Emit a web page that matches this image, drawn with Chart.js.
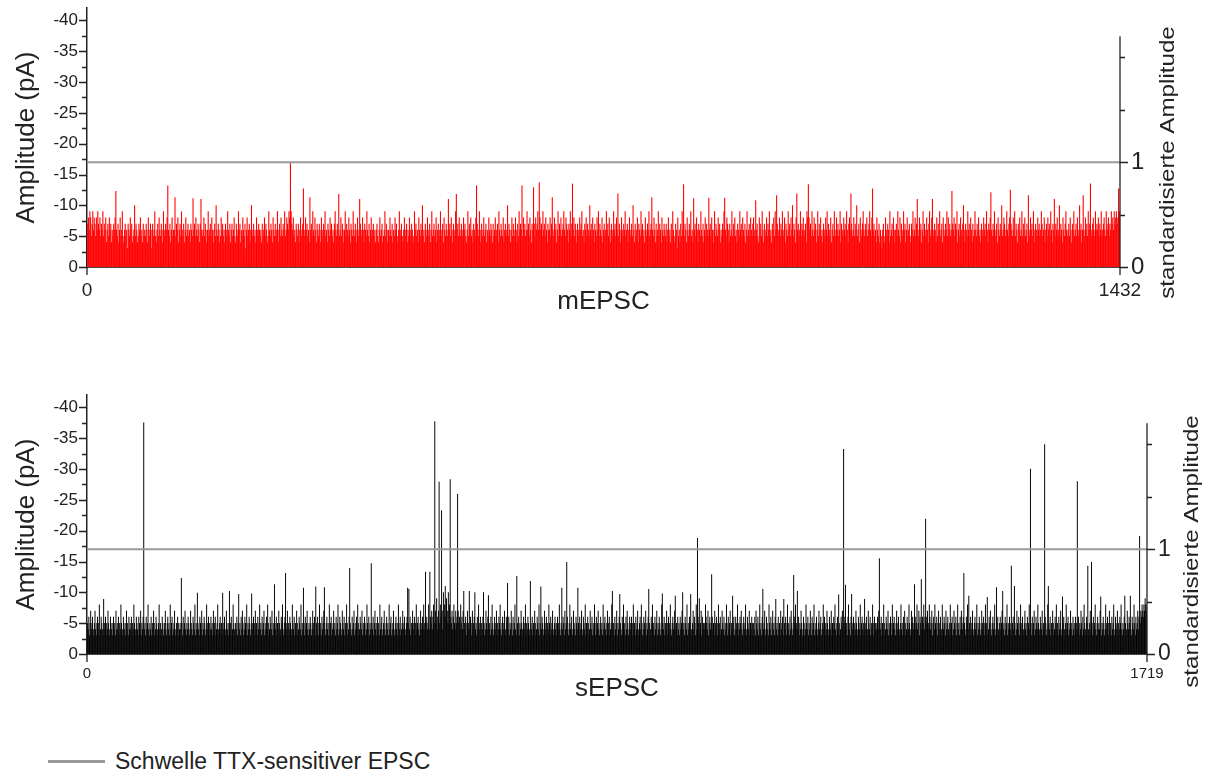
<!DOCTYPE html>
<html>
<head>
<meta charset="utf-8">
<script src="https://cdn.jsdelivr.net/npm/chart.js@4/dist/chart.umd.min.js"></script>
<style>
  html, body { margin: 0; padding: 0; background: #fff; }
  #page { position: relative; width: 1208px; height: 776px; overflow: hidden;
          font-family: "Liberation Sans", Arial, sans-serif; }
  .panel { position: absolute; left: 0; width: 1208px; height: 320px; }
  #legend { position: absolute; left: 48px; top: 744px; height: 34px;
            display: flex; align-items: center; color: #222; font-size: 23px; }
  #legend .swatch { width: 57px; height: 3px; background: #9a9a9a; margin-right: 10px; }
</style>
</head>
<body>
<div id="page">
  <div class="panel" style="top:0"><canvas id="mChart" width="1208" height="320"></canvas></div>
  <div class="panel" style="top:387px"><canvas id="sChart" width="1208" height="320"></canvas></div>
  <div id="legend"><span class="swatch"></span><span>Schwelle TTX-sensitiver EPSC</span></div>
</div>
<script>
// Amplitudes (pA) of single miniature EPSCs, in order of occurrence
const mEPSC = [
-7,-8,-6,-9,-8,-5,-7,-9,-6,-8,  -7,-5,-8,-6,-9,-7,-6,-8,-5,-7,  -6,-9,-5,-7,-6,-8,-4,-6,-7,-5,  -8,-6,-7,-4,-6,-5,-7,-6,-8,-12.3,
-6,-5,-7,-4,-6,-8,-5,-6,-9,-5,  -4,-6,-7,-5,-6,-3,-7,-6,-5,-8,  -6,-7,-4,-5,-6,-10,-5,-7,-6,-4,  -5,-7,-6,-8,-5,-6,-4,-7,-5,-6,
-5,-7,-6,-4,-8,-6,-5,-7,-3,-6,  -7,-5,-6,-9,-5,-4,-6,-7,-5,-8,  -6,-5,-7,-6,-4,-9,-6,-5,-7,-6,  -8,-13.2,-6,-5,-7,-4,-6,-8,-5,-6,
-6,-11.3,-5,-7,-6,-8,-4,-6,-7,-5,  -9,-6,-5,-7,-4,-6,-8,-5,-6,-7,  -5,-6,-4,-7,-6,-5,-11.1,-6,-7,-5,  -8,-6,-5,-7,-6,-4,-7,-11,-6,-5,
-6,-8,-5,-7,-6,-4,-6,-9,-5,-6,  -7,-5,-8,-6,-4,-6,-7,-5,-10,-6,  -5,-7,-6,-4,-5,-8,-6,-7,-5,-6,  -4,-7,-6,-5,-9,-6,-5,-7,-4,-6,
-7,-5,-6,-8,-5,-4,-7,-6,-5,-9,  -6,-7,-4,-6,-5,-8,-6,-5,-7,-3,  -6,-8,-5,-6,-7,-4,-6,-10,-5,-6,  -7,-5,-6,-4,-8,-6,-5,-7,-6,-5,
-6,-4,-7,-5,-6,-8,-5,-7,-6,-4,  -5,-9,-6,-5,-7,-6,-4,-8,-6,-5,  -7,-5,-6,-9,-4,-6,-7,-5,-8,-6,  -5,-7,-6,-9,-5,-6,-8,-7,-6,-9,
-8,-16.9,-9,-7,-6,-8,-5,-6,-4,-7,  -6,-5,-7,-4,-6,-8,-5,-6,-7,-12.7,  -6,-5,-8,-6,-7,-5,-6,-4,-11.3,-6,  -7,-5,-9,-6,-5,-8,-6,-4,-7,-6,
-5,-7,-6,-4,-8,-6,-5,-7,-6,-9,  -5,-6,-4,-7,-6,-5,-8,-6,-7,-5,  -6,-4,-7,-9,-6,-5,-7,-6,-11.8,-5,  -6,-8,-5,-7,-6,-4,-6,-9,-5,-7,
-6,-5,-8,-6,-4,-7,-6,-5,-9,-6,  -5,-7,-6,-4,-8,-5,-6,-11,-7,-6,  -5,-8,-6,-4,-7,-6,-5,-9,-6,-5,  -7,-4,-6,-8,-5,-6,-7,-5,-6,-4,
-6,-7,-5,-4,-6,-8,-5,-6,-7,-4,  -5,-6,-9,-5,-7,-6,-4,-6,-5,-8,  -6,-5,-7,-4,-6,-5,-8,-6,-7,-5,  -4,-6,-9,-5,-6,-7,-5,-4,-6,-8,
-5,-6,-7,-4,-6,-5,-8,-6,-5,-7,  -6,-4,-5,-9,-6,-7,-5,-6,-4,-8,  -6,-5,-7,-6,-10,-5,-6,-4,-7,-6,  -5,-8,-6,-5,-7,-4,-6,-9,-5,-6,
-7,-5,-6,-8,-4,-6,-7,-5,-6,-9,  -5,-6,-7,-4,-8,-6,-5,-7,-6,-5,  -11,-6,-7,-5,-8,-6,-4,-7,-6,-5,  -9,-11.8,-6,-7,-5,-8,-6,-5,-7,-6,
-5,-8,-6,-7,-5,-4,-6,-9,-5,-7,  -6,-8,-5,-6,-4,-7,-6,-5,-8,-13.2,  -7,-6,-5,-9,-6,-4,-7,-5,-6,-8,  -5,-6,-7,-4,-6,-5,-8,-6,-5,-7,
-6,-4,-7,-5,-6,-8,-5,-6,-7,-4,  -9,-6,-5,-7,-6,-5,-8,-4,-6,-7,  -5,-6,-10,-5,-7,-6,-4,-6,-8,-5,  -7,-6,-5,-8,-6,-4,-7,-5,-9,-6,
-7,-6,-13.2,-5,-8,-6,-7,-5,-6,-9,  -6,-7,-5,-8,-6,-4,-7,-6,-12.9,-7,  -5,-8,-6,-7,-9,-6,-13.7,-8,-6,-7,  -5,-9,-6,-7,-5,-8,-6,-4,-7,-6,
-6,-8,-5,-7,-11.3,-6,-5,-8,-6,-7,  -4,-6,-9,-5,-7,-6,-8,-5,-6,-7,  -9,-6,-5,-8,-7,-6,-4,-7,-6,-9,  -5,-7,-13.5,-6,-8,-5,-7,-6,-4,-7,
-6,-5,-8,-6,-7,-9,-5,-6,-4,-7,  -6,-8,-5,-7,-6,-5,-10,-6,-7,-5,  -8,-6,-4,-7,-6,-5,-8,-6,-9,-5,  -7,-6,-5,-8,-4,-6,-7,-5,-6,-9,
-6,-7,-5,-8,-6,-4,-7,-6,-5,-9,  -6,-7,-5,-8,-6,-11.9,-5,-7,-6,-4,  -8,-6,-5,-7,-6,-9,-5,-6,-7,-4,  -6,-8,-5,-6,-7,-5,-10,-6,-4,-7,
-5,-6,-8,-4,-7,-6,-5,-9,-6,-7,  -5,-6,-4,-8,-6,-5,-7,-6,-9,-5,  -6,-7,-11.3,-6,-5,-8,-6,-4,-7,-5,  -6,-9,-5,-7,-6,-4,-8,-6,-5,-7,
-6,-5,-7,-4,-6,-8,-5,-6,-4,-7,  -5,-9,-6,-4,-5,-7,-6,-3,-8,-5,  -6,-4,-7,-5,-9,-6,-13.4,-5,-7,-6,  -4,-8,-6,-5,-7,-6,-9,-5,-6,-4,
-11.1,-6,-7,-5,-8,-6,-4,-7,-6,-5,  -9,-6,-5,-7,-4,-6,-8,-5,-7,-6,  -5,-11.2,-6,-7,-5,-8,-6,-4,-6,-9,  -5,-7,-6,-5,-8,-6,-7,-4,-6,-5,
-7,-6,-9,-11.2,-6,-5,-8,-7,-6,-4,  -7,-5,-6,-9,-5,-7,-6,-8,-5,-6,  -4,-7,-6,-5,-9,-6,-7,-5,-8,-6,  -5,-7,-4,-6,-9,-5,-6,-7,-5,-8,
-6,-5,-7,-8,-6,-5,-10.8,-6,-7,-5,  -4,-8,-6,-7,-5,-9,-6,-4,-7,-5,  -6,-8,-5,-7,-6,-9,-5,-6,-4,-7,  -6,-8,-5,-9,-6,-11.6,-7,-5,-6,-8,
-5,-7,-6,-9,-5,-6,-8,-4,-7,-6,  -5,-9,-6,-7,-5,-8,-6,-10,-5,-7,  -6,-4,-8,-11.9,-6,-7,-5,-6,-9,-5,  -7,-6,-8,-5,-6,-7,-4,-9,-8,-13.4,
-8,-6,-7,-5,-9,-6,-5,-8,-6,-7,  -4,-6,-9,-5,-7,-6,-8,-5,-6,-4,  -7,-6,-5,-8,-6,-9,-5,-7,-6,-5,  -8,-4,-6,-7,-5,-9,-6,-5,-8,-6,
-7,-5,-6,-9,-4,-7,-6,-5,-8,-6,  -7,-5,-9,-6,-4,-7,-8,-6,-11.9,-7,  -5,-6,-8,-5,-7,-6,-10,-5,-6,-7,  -4,-8,-6,-5,-7,-9,-6,-5,-7,-6,
-8,-5,-6,-7,-9,-6,-5,-8,-12.7,-6,  -7,-5,-6,-4,-8,-6,-5,-7,-4,-6,  -5,-3,-6,-7,-5,-4,-8,-6,-5,-7,  -6,-4,-9,-5,-6,-7,-5,-8,-6,-4,
-6,-7,-5,-9,-6,-5,-8,-4,-7,-6,  -5,-9,-6,-7,-4,-6,-8,-5,-6,-7,  -5,-4,-7,-6,-9,-5,-6,-8,-5,-7,  -11,-6,-5,-8,-6,-7,-4,-6,-9,-5,
-7,-6,-5,-8,-6,-4,-7,-9,-5,-6,  -8,-11,-6,-5,-7,-6,-4,-8,-5,-7,  -6,-9,-5,-6,-7,-4,-8,-6,-5,-7,  -6,-9,-5,-8,-6,-7,-5,-6,-12.3,-7,
-6,-8,-5,-7,-6,-9,-4,-6,-7,-5,  -8,-6,-5,-7,-10,-6,-4,-7,-6,-5,  -9,-6,-7,-5,-8,-6,-4,-7,-5,-6,  -9,-6,-5,-7,-6,-8,-5,-6,-4,-7,
-6,-5,-8,-6,-7,-5,-9,-6,-4,-7,  -6,-8,-12.1,-6,-5,-7,-6,-9,-5,-6,  -7,-4,-8,-6,-5,-7,-6,-10,-5,-6,  -8,-7,-5,-6,-9,-6,-5,-7,-8,-12.5,
-7,-6,-5,-8,-6,-9,-5,-7,-6,-4,  -7,-6,-8,-5,-6,-9,-5,-7,-6,-8,  -5,-6,-7,-4,-11.6,-6,-5,-8,-6,-7,  -5,-9,-6,-4,-7,-6,-5,-8,-6,-7,
-5,-6,-9,-7,-5,-6,-8,-4,-6,-7,  -5,-8,-6,-7,-5,-9,-6,-4,-7,-6,  -11,-5,-7,-6,-8,-5,-6,-10,-5,-7,  -6,-4,-8,-6,-5,-7,-9,-6,-5,-6,
-7,-5,-8,-6,-4,-7,-6,-9,-5,-6,  -7,-5,-8,-6,-5,-10,-6,-7,-4,-6,  -11.6,-6,-5,-8,-6,-7,-5,-9,-6,-7,  -13.5,-6,-5,-7,-8,-6,-5,-9,-6,-7,
-6,-8,-5,-7,-6,-9,-5,-6,-7,-8,  -6,-5,-9,-7,-6,-8,-5,-7,-6,-9,  -7,-8,-6,-9,-7,-8,-9,-7,-8,-12.7,  -9,-8
];

// Amplitudes (pA) of single spontaneous EPSCs, in order of occurrence
const sEPSC = [
-5,-4,-6,-3,-5,-7,-4,-5,-6,-3,  -4,-5,-7,-4,-3,-5,-6,-4,-5,-8,  -3,-4,-6,-5,-4,-3,-8.9,-5,-4,-6,  -3,-5,-4,-7,-5,-3,-4,-6,-5,-4,
-3,-5,-6,-4,-5,-3,-7,-4,-5,-4,  -6,-3,-5,-4,-8,-5,-3,-4,-6,-5,  -4,-3,-5,-7,-4,-5,-3,-6,-4,-5,  -4,-6,-3,-5,-4,-8,-5,-3,-4,-6,
-5,-4,-3,-6,-5,-4,-7,-3,-5,-4,  -6,-37.5,-4,-5,-3,-6,-4,-5,-8,-4,  -3,-5,-4,-6,-3,-5,-4,-7,-5,-3,  -4,-6,-5,-4,-3,-5,-8,-4,-5,-3,
-4,-6,-5,-3,-4,-5,-7,-4,-3,-5,  -6,-4,-5,-3,-8,-4,-5,-6,-3,-4,  -5,-7,-4,-3,-5,-4,-6,-5,-3,-4,  -5,-4,-12.3,-5,-3,-6,-4,-5,-7,-4,
-3,-5,-4,-6,-5,-3,-4,-7,-5,-4,  -3,-6,-5,-4,-8,-3,-5,-4,-9.9,-5,  -4,-3,-6,-5,-4,-7,-3,-5,-4,-6,  -5,-3,-4,-8,-5,-4,-6,-3,-5,-4,
-6,-4,-5,-3,-7,-4,-5,-6,-3,-4,  -5,-8,-4,-3,-5,-6,-4,-5,-3,-9.9,  -4,-5,-6,-3,-4,-7,-5,-4,-3,-5,  -10.2,-4,-5,-6,-3,-4,-8,-5,-4,-3,
-5,-4,-6,-3,-5,-9.7,-4,-5,-3,-6,  -4,-7,-5,-3,-4,-6,-5,-4,-8,-3,  -5,-4,-6,-5,-3,-4,-9.8,-5,-4,-6,  -3,-5,-7,-4,-5,-3,-6,-4,-5,-8,
-4,-5,-3,-6,-4,-5,-7,-3,-4,-5,  -6,-4,-8,-5,-3,-4,-6,-5,-4,-7,  -3,-5,-4,-11.3,-5,-4,-6,-3,-5,-4,  -7,-5,-3,-4,-6,-5,-8,-4,-3,-5,
-6,-13.1,-5,-4,-7,-3,-5,-4,-6,-5,  -3,-4,-8,-5,-4,-6,-3,-5,-4,-7,  -5,-3,-4,-6,-5,-4,-8,-3,-5,-4,  -10.7,-5,-3,-6,-4,-5,-7,-4,-3,-5,
-4,-6,-5,-3,-4,-7,-5,-4,-6,-3,  -10.9,-5,-4,-6,-3,-5,-8,-4,-5,-3,  -6,-4,-5,-7,-10.8,-4,-3,-5,-6,-4,  -5,-3,-8,-4,-5,-6,-3,-4,-5,-7,
-4,-5,-3,-6,-4,-5,-8,-3,-4,-6,  -5,-4,-3,-7,-5,-4,-6,-3,-5,-4,  -8,-5,-3,-4,-6,-13.9,-5,-4,-3,-6,  -4,-5,-7,-3,-4,-5,-6,-4,-8,-5,
-3,-4,-6,-5,-4,-7,-3,-5,-4,-6,  -5,-3,-4,-8,-5,-4,-6,-3,-5,-4,  -14.7,-5,-4,-6,-3,-5,-7,-4,-5,-3,  -6,-4,-5,-3,-8,-4,-5,-6,-3,-4,
-5,-7,-4,-3,-5,-6,-4,-5,-3,-8,  -4,-5,-6,-3,-4,-5,-7,-4,-3,-5,  -6,-4,-5,-3,-8,-5,-4,-6,-3,-4,  -5,-7,-4,-5,-6,-3,-4,-5,-6,-10.7,
-5,-10.5,-4,-6,-3,-5,-4,-7,-5,-4,  -6,-3,-5,-8,-4,-5,-6,-4,-3,-5,  -7,-4,-5,-6,-4,-8,-5,-4,-13.3,-5,  -6,-4,-5,-8,-4,-13.3,-6,-5,-7,-4,
-6,-8,-5,-37.7,-7,-5,-9,-6,-4,-7,  -27.9,-5,-8,-6,-23.3,-7,-4,-10,-6,-8,  -11,-6,-9,-5,-7,-10,-5,-8,-28.3,-6,  -5,-7,-4,-6,-8,-5,-4,-7,-5,-6,
-25.9,-7,-5,-6,-4,-8,-5,-6,-4,-7,  -10.2,-5,-4,-6,-3,-5,-7,-4,-5,-10.2,  -4,-6,-5,-3,-7,-4,-5,-6,-10,-4,  -5,-3,-6,-4,-8,-5,-4,-6,-3,-5,
-4,-6,-10,-5,-3,-4,-7,-5,-4,-6,  -9.5,-4,-5,-3,-6,-4,-8,-5,-3,-4,  -6,-5,-4,-7,-3,-5,-4,-6,-5,-8,  -4,-3,-5,-6,-4,-5,-7,-3,-4,-6,
-5,-11.5,-4,-6,-3,-5,-4,-7,-5,-3,  -6,-4,-5,-8,-4,-3,-12.6,-5,-4,-6,  -3,-5,-4,-7,-5,-4,-3,-6,-5,-4,  -8,-3,-5,-4,-6,-5,-3,-4,-11.8,-5,
-4,-6,-3,-5,-4,-7,-5,-3,-4,-6,  -5,-4,-8,-3,-5,-10.9,-4,-6,-5,-3,  -4,-7,-5,-4,-6,-3,-5,-4,-8,-5,  -3,-6,-4,-5,-7,-4,-3,-5,-6,-4,
-5,-3,-6,-4,-5,-8,-4,-3,-5,-10.7,  -4,-6,-5,-3,-7,-4,-5,-14.9,-6,-4,  -3,-5,-8,-4,-5,-6,-3,-4,-7,-5,  -4,-3,-6,-5,-4,-10.7,-5,-3,-6,-4,
-5,-7,-4,-3,-6,-5,-4,-8,-3,-5,  -4,-6,-5,-3,-4,-7,-5,-4,-6,-3,  -5,-4,-8,-5,-3,-6,-4,-5,-7,-4,  -3,-5,-6,-4,-5,-3,-8,-4,-5,-6,
-4,-3,-5,-7,-4,-5,-6,-3,-4,-5,  -8,-10.2,-4,-5,-3,-6,-4,-5,-7,-3,  -5,-4,-6,-9.7,-5,-4,-3,-6,-5,-8,  -4,-5,-3,-6,-4,-7,-5,-3,-4,-6,
-5,-4,-6,-3,-5,-8,-4,-5,-3,-6,  -4,-5,-7,-4,-3,-5,-6,-4,-8,-5,  -3,-4,-6,-5,-4,-7,-3,-5,-4,-6,  -10.5,-5,-3,-4,-6,-5,-8,-4,-5,-3,
-6,-4,-5,-7,-3,-5,-4,-6,-5,-3,  -4,-8,-9.8,-5,-4,-6,-3,-5,-4,-7,  -5,-3,-6,-4,-5,-8,-4,-3,-5,-6,  -4,-5,-7,-9.4,-4,-5,-3,-6,-4,-5,
-3,-6,-4,-5,-7,-10,-4,-5,-3,-6,  -5,-4,-8,-3,-5,-4,-6,-5,-9.7,-4,  -3,-5,-7,-4,-6,-5,-3,-8,-4,-18.8,  -6,-5,-9,-4,-5,-7,-3,-6,-4,-5,
-5,-4,-8,-6,-5,-4,-7,-3,-5,-6,  -4,-5,-12.9,-6,-4,-5,-3,-7,-5,-4,  -6,-3,-5,-8,-4,-5,-6,-3,-4,-7,  -5,-4,-6,-3,-5,-4,-8,-5,-3,-6,
-4,-5,-7,-3,-5,-4,-9.4,-5,-6,-3,  -4,-6,-5,-4,-8,-3,-5,-4,-6,-5,  -7,-4,-3,-5,-6,-4,-5,-8,-3,-4,  -6,-5,-4,-7,-3,-5,-4,-6,-5,-3,
-5,-4,-6,-3,-7,-5,-4,-6,-3,-5,  -8,-4,-5,-3,-6,-10.5,-4,-5,-7,-3,  -4,-6,-5,-4,-3,-8,-5,-4,-6,-3,  -5,-7,-4,-5,-3,-6,-8.9,-4,-5,-3,
-6,-4,-5,-3,-7,-4,-5,-6,-3,-8.9,  -5,-4,-6,-3,-5,-8,-4,-5,-3,-6,  -4,-7,-5,-3,-4,-12.8,-6,-5,-8,-4,  -5,-10.2,-4,-6,-3,-5,-4,-7,-5,-3,
-4,-6,-5,-3,-4,-8,-5,-4,-6,-3,  -5,-4,-7,-5,-3,-6,-4,-5,-8,-3,  -4,-5,-6,-4,-3,-5,-7,-4,-5,-6,  -3,-4,-5,-8,-4,-6,-3,-5,-4,-7,
-5,-3,-4,-6,-5,-4,-7,-3,-5,-4,  -6,-5,-8,-4,-3,-5,-6,-4,-9.6,-5,  -3,-4,-6,-5,-7,-4,-33.2,-5,-6,-11.2,  -4,-5,-3,-6,-8,-4,-5,-3,-6,-9.7,
-4,-5,-6,-3,-5,-4,-7,-5,-3,-4,  -6,-5,-4,-8,-3,-5,-6,-4,-5,-3,  -8.9,-4,-5,-6,-3,-4,-7,-5,-4,-6,  -3,-5,-4,-8,-5,-3,-6,-4,-5,-4,
-5,-6,-4,-7,-15.5,-5,-4,-6,-3,-5,  -4,-8,-5,-3,-4,-6,-5,-4,-7,-3,  -5,-4,-6,-5,-3,-8,-4,-5,-6,-4,  -3,-5,-7,-4,-5,-6,-3,-4,-5,-8,
-4,-5,-3,-6,-4,-7,-5,-3,-4,-6,  -5,-4,-8,-5,-3,-4,-7,-5,-6,-4,  -5,-11.3,-4,-6,-5,-8,-4,-5,-7,-3,  -6,-5,-12.1,-4,-6,-5,-8,-4,-6,-21.9,
-6,-5,-7,-4,-5,-8,-6,-4,-5,-7,  -3,-5,-6,-4,-8,-5,-4,-6,-3,-5,  -7,-4,-5,-6,-3,-4,-8,-5,-4,-6,  -5,-3,-7,-4,-5,-6,-4,-3,-5,-8,
-4,-5,-6,-3,-4,-7,-5,-4,-6,-3,  -5,-8,-4,-5,-3,-6,-4,-7,-5,-4,  -6,-13.1,-5,-4,-3,-6,-5,-8,-4,-9.4,  -5,-3,-6,-4,-5,-7,-4,-3,-5,-6,
-4,-5,-8,-3,-5,-4,-6,-5,-3,-4,  -7,-5,-4,-6,-3,-5,-8,-4,-5,-9.2,  -3,-4,-6,-5,-7,-4,-3,-5,-6,-4,  -5,-8,-3,-4,-10.8,-5,-6,-4,-3,-5,
-6,-4,-5,-7,-10.2,-4,-5,-3,-6,-4,  -5,-8,-3,-5,-4,-6,-5,-4,-14.3,-3,  -5,-6,-4,-11,-5,-3,-4,-7,-5,-4,  -6,-3,-5,-8,-4,-5,-6,-3,-4,-5,
-7,-4,-5,-3,-6,-4,-5,-8,-4,-30,  -5,-3,-6,-4,-5,-7,-3,-4,-6,-5,  -4,-8,-5,-3,-4,-6,-5,-4,-7,-3,  -5,-4,-34,-6,-5,-3,-4,-8,-11,-5,
-4,-6,-3,-5,-4,-7,-5,-3,-4,-6,  -5,-8,-4,-5,-3,-6,-4,-5,-7,-3,  -4,-9.3,-5,-6,-4,-3,-5,-8,-4,-5,  -6,-3,-4,-5,-7,-4,-5,-3,-6,-4,
-5,-3,-6,-4,-5,-28,-4,-6,-3,-5,  -4,-7,-5,-3,-6,-4,-8,-5,-4,-3,  -6,-5,-14.3,-4,-3,-5,-7,-4,-14.9,-5,  -3,-6,-4,-5,-8,-4,-3,-5,-6,-4,
-5,-4,-7,-9.3,-3,-5,-4,-6,-5,-3,  -4,-8,-5,-4,-6,-3,-5,-7,-4,-5,  -3,-6,-4,-5,-8,-3,-4,-6,-5,-4,  -7,-3,-5,-4,-6,-5,-8,-4,-3,-5,
-4,-6,-9.4,-5,-3,-4,-7,-5,-4,-6,  -5,-9.4,-4,-3,-6,-5,-4,-8,-5,-3,  -6,-4,-5,-7,-4,-6,-19.1,-5,-7,-6,  -8,-7,-6,-8,-7,-9,-8,-7,-8
];

// Event-number axis: first and last event
const mTicksX = [0, 1432];
const sTicksX = [0, 1719];

// Amplitude axis (pA)
const ampRange = [-42, 0];
const ampTicks = [-40, -35, -30, -25, -20, -15, -10, -5, 0];
const ampMinorTicks = [-37.5, -32.5, -27.5, -22.5, -17.5, -12.5, -7.5, -2.5];

// Threshold of TTX-sensitive EPSCs, in pA and on the standardised scale
const schwellePA = -17;
const schwelleStd = 1;

// Standardised amplitude axis
const stdTicks = [0, 1];
const stdMinorTicks = [0.5, 1.5, 2];
const stdAxisEnd = 2.2;

const FONT = '"Liberation Sans", Arial, Helvetica, sans-serif';
const INK = '#222';

// Minor tick marks, the shortened right spine and the rotated right-hand title
const axisMarks = {
  id: 'axisMarks',
  afterDraw(chart, args, o) {
    const { ctx, chartArea: a, scales } = chart;
    const y = scales.y, ys = scales.yStd, x = scales.x;
    ctx.save();
    ctx.strokeStyle = INK;
    ctx.lineWidth = 1.3;
    ctx.beginPath();
    ampTicks.forEach(v => { const p = Math.round(y.getPixelForValue(v)) + 0.5; ctx.moveTo(a.left, p); ctx.lineTo(a.left - 8, p); });
    ampMinorTicks.forEach(v => { const p = Math.round(y.getPixelForValue(v)) + 0.5; ctx.moveTo(a.left, p); ctx.lineTo(a.left - 5, p); });
    stdTicks.forEach(v => { const p = Math.round(ys.getPixelForValue(v)) + 0.5; ctx.moveTo(a.right, p); ctx.lineTo(a.right + 8, p); });
    stdMinorTicks.forEach(v => { const p = Math.round(ys.getPixelForValue(v)) + 0.5; ctx.moveTo(a.right, p); ctx.lineTo(a.right + 5, p); });
    o.xTicks.forEach(v => { const p = x.getPixelForValue(v); ctx.moveTo(p, a.bottom); ctx.lineTo(p, a.bottom + 8); });
    ctx.moveTo(a.right, ys.getPixelForValue(0));
    ctx.lineTo(a.right, ys.getPixelForValue(stdAxisEnd));
    ctx.stroke();

    ctx.translate(a.right + o.titleDx, (a.top + a.bottom) / 2 + o.titleDy);
    ctx.rotate(-Math.PI / 2);
    ctx.scale(1.15, 1);
    ctx.font = o.titleSize + 'px ' + FONT;
    ctx.fillStyle = INK;
    ctx.textAlign = 'center';
    ctx.textBaseline = 'middle';
    ctx.fillText('standardisierte Amplitude', 0, 0);
    ctx.restore();
  }
};

function panel(id, cfg) {
  const eventNo = cfg.values.map((_, i) => i + 1);
  const xMax = cfg.xTicks[cfg.xTicks.length - 1];
  return new Chart(document.getElementById(id), {
    type: 'bar',
    data: {
      labels: eventNo,
      datasets: [
        {
          type: 'bar',
          data: cfg.values,
          backgroundColor: cfg.color,
          borderWidth: 0,
          barPercentage: 1,
          categoryPercentage: 1,
          inflateAmount: 0.18,
          xAxisID: 'x',
          yAxisID: 'y',
          order: 2
        },
        {
          type: 'line',
          data: [{ x: 0, y: schwelleStd }, { x: xMax, y: schwelleStd }],
          borderColor: '#9a9a9a',
          borderWidth: 2,
          pointRadius: 0,
          xAxisID: 'x',
          yAxisID: 'yStd',
          order: 1
        }
      ]
    },
    options: {
      responsive: false,
      animation: false,
      events: [],
      layout: { padding: { top: 8, left: 0, right: 0, bottom: 0 } },
      plugins: {
        legend: { display: false },
        tooltip: { enabled: false },
        axisMarks: { xTicks: cfg.xTicks, titleDx: cfg.titleDx, titleDy: cfg.titleDy, titleSize: cfg.titleSize }
      },
      scales: {
        x: {
          type: 'linear',
          position: 'bottom',
          min: 0,
          max: xMax,
          offset: false,
          grid: { display: false, drawTicks: true, tickLength: 8, offset: false },
          border: { display: true, color: '#444', width: 1 },
          afterBuildTicks: s => { s.ticks = cfg.xTicks.map(v => ({ value: v })); },
          afterFit: s => { s.height = 53; s.paddingLeft = 0; s.paddingRight = 0; },
          ticks: {
            autoSkip: false, maxRotation: 0, minRotation: 0,
            padding: cfg.xTickPad, color: INK,
            font: { family: FONT, size: cfg.xTickSize },
            callback: v => String(v)
          },
          title: {
            display: true, text: cfg.xTitle, color: INK,
            font: { family: FONT, size: 26 }, padding: { top: 0, bottom: 3 }
          }
        },
        y: {
          type: 'linear',
          position: 'left',
          reverse: true,
          min: ampRange[0],
          max: ampRange[1],
          grid: { display: false, drawTicks: true, tickLength: 8 },
          border: { display: true, color: INK, width: 1.5 },
          afterBuildTicks: s => { s.ticks = ampTicks.map(v => ({ value: v })); },
          afterFit: s => { s.width = 87; s.paddingTop = 0; s.paddingBottom = 0; },
          ticks: {
            padding: 1, color: INK,
            font: { family: FONT, size: 17 },
            callback: v => String(v)
          },
          title: {
            display: true, text: 'Amplitude (pA)', color: INK,
            font: { family: FONT, size: 26 }, padding: { top: 11, bottom: 0 }
          }
        },
        yStd: {
          type: 'linear',
          position: 'right',
          min: 0,
          max: ampRange[0] / schwellePA,
          grid: { display: false, drawTicks: true, tickLength: 8 },
          border: { display: false },
          afterBuildTicks: s => { s.ticks = stdTicks.map(v => ({ value: v })); },
          afterFit: s => { s.width = cfg.rightWidth; s.paddingTop = 0; s.paddingBottom = 0; },
          ticks: {
            padding: 3, color: INK,
            font: { family: FONT, size: cfg.stdTickSize },
            callback: v => String(v)
          }
        }
      }
    },
    plugins: [axisMarks]
  });
}

panel('mChart', {
  values: mEPSC, xTicks: mTicksX, color: '#f00', xTitle: 'mEPSC',
  xTickSize: 19, xTickPad: 4, rightWidth: 88, stdTickSize: 24,
  titleDx: 48, titleDy: 25, titleSize: 21
});
panel('sChart', {
  values: sEPSC, xTicks: sTicksX, color: '#000', xTitle: 'sEPSC',
  xTickSize: 15, xTickPad: 3, rightWidth: 61, stdTickSize: 23,
  titleDx: 45, titleDy: 27, titleSize: 21
});
</script>
</body>
</html>
